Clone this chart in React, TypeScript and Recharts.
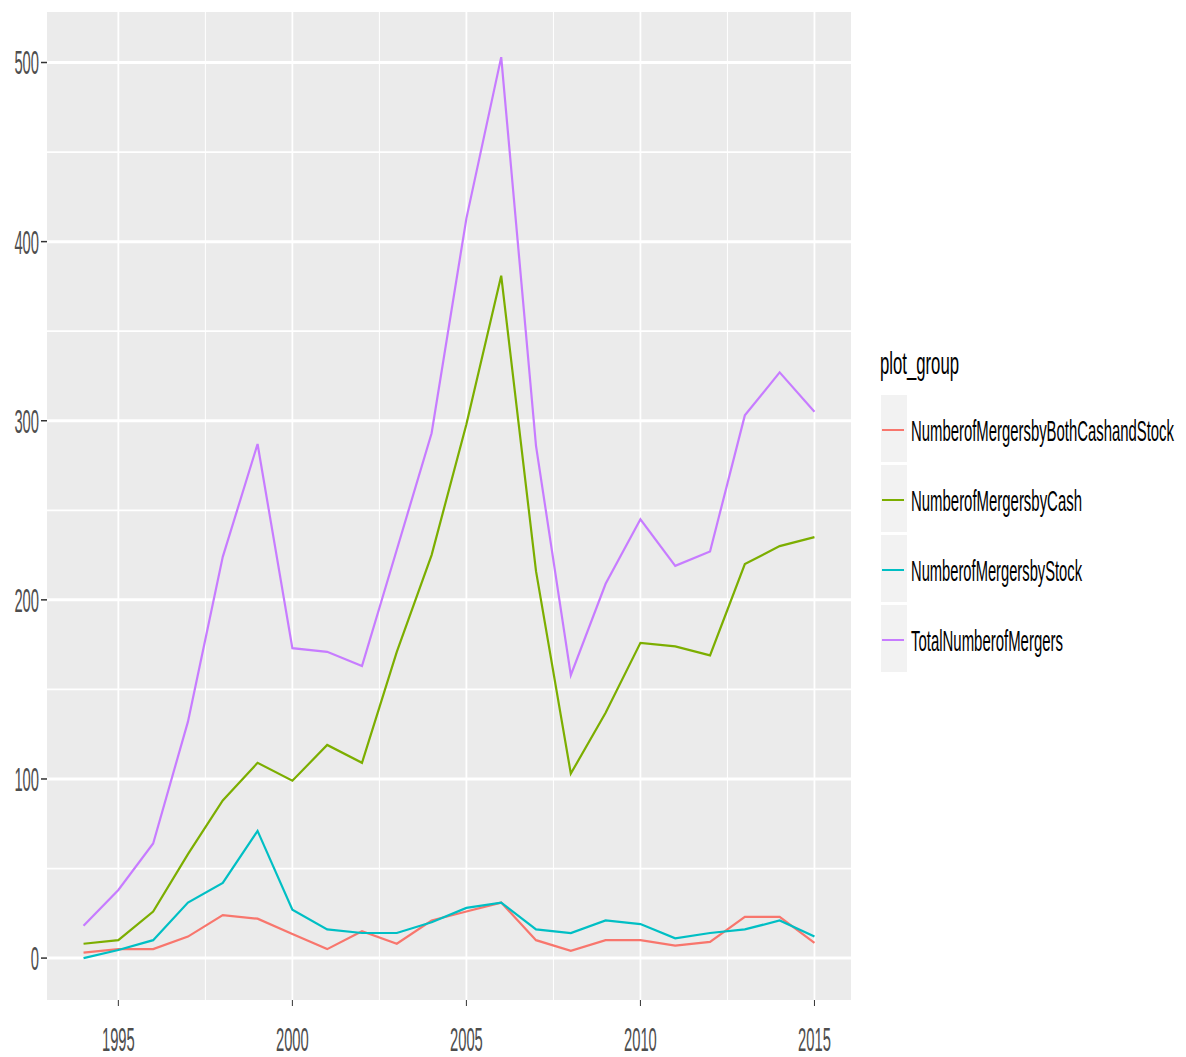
import React, { useLayoutEffect, useRef, useState } from 'react';
import { LineChart, Line, XAxis, YAxis, CartesianGrid, Legend } from 'recharts';

const years = [1994, 1995, 1996, 1997, 1998, 1999, 2000, 2001, 2002, 2003, 2004, 2005, 2006, 2007, 2008, 2009, 2010, 2011, 2012, 2013, 2014, 2015];
const bothCashStock = [3, 5, 5, 12, 24, 22, 13.5, 5, 15, 8, 21, 26, 31, 10, 4, 10, 10, 7, 9, 23, 23, 8.5];
const byCash = [8, 10, 26, 58, 88, 109, 99, 119, 109, 171, 225, 298, 381, 216, 103, 137, 176, 174, 169, 220, 230, 235];
const byStock = [0, 4.5, 10, 31, 42, 71, 27, 16, 14, 14, 20, 28, 31, 16, 14, 21, 19, 11, 14, 16, 21, 12];
const totalMergers = [18, 38, 64, 132, 224, 287, 173, 171, 163, 228, 293, 413, 503, 286, 158, 209, 245, 219, 227, 303, 327, 305];

const xMajor = [1995, 2000, 2005, 2010, 2015];
const xMinor = [1997.5, 2002.5, 2007.5, 2012.5];
const yMajor = [0, 100, 200, 300, 400, 500];
const yMinor = [50, 150, 250, 350, 450];

const series = [
  { key: 'both', name: 'NumberofMergersbyBothCashandStock', color: '#F8766D', width: 263 },
  { key: 'cash', name: 'NumberofMergersbyCash', color: '#7CAE00', width: 171 },
  { key: 'stock', name: 'NumberofMergersbyStock', color: '#00BFC4', width: 171 },
  { key: 'total', name: 'TotalNumberofMergers', color: '#C77CFF', width: 152 },
];

const data = years.map((year, i) => ({
  year,
  both: bothCashStock[i],
  cash: byCash[i],
  stock: byStock[i],
  total: totalMergers[i],
}));

const FONT = 'Liberation Sans, Arial, sans-serif';
// ggplot text is squeezed horizontally in the reference, so fix widths
const DIGIT_W = 8.2;

// text squeezed to a given width with a scale transform (measured once drawn)
const Squeezed = ({ x, y, width, children, ...rest }: any) => {
  const ref = useRef<SVGTextElement>(null);
  const [sx, setSx] = useState(0.55);
  useLayoutEffect(() => {
    if (ref.current) {
      const w = ref.current.getComputedTextLength();
      if (w > 0) setSx(width / w);
    }
  }, [width, children]);
  return (
    <text ref={ref} transform={`translate(${x},${y}) scale(${sx},1)`} fontFamily={FONT} {...rest}>
      {children}
    </text>
  );
};

const YTick = (props: any) => {
  const { x, y, payload } = props;
  const s = String(payload.value);
  return (
    <Squeezed x={x} y={y} dy="0.36em" textAnchor="end" fontSize={33} fill="#4D4D4D" width={s.length * DIGIT_W}>
      {s}
    </Squeezed>
  );
};

const XTick = (props: any) => {
  const { x, y, payload } = props;
  const s = String(payload.value);
  return (
    <Squeezed x={x} y={y + 43} textAnchor="middle" fontSize={33} fill="#4D4D4D" width={s.length * DIGIT_W}>
      {s}
    </Squeezed>
  );
};

const LegendBox = (props: any) => {
  const { payload } = props;
  return (
    <svg width={316} height={345} style={{ display: 'block' }}>
      <Squeezed x={10} y={44} fontSize={32} fill="#000" width={79}>plot_group</Squeezed>
      {(payload || []).map((p: any, i: number) => {
        const top = 65 + i * 70;
        const meta = series.find((s) => s.name === p.value);
        return (
          <g key={p.value}>
            <rect x={11} y={top} width={26} height={67} fill="#F2F2F2" />
            <line x1={12} x2={34} y1={top + 35} y2={top + 35} stroke={p.color} strokeWidth={2} />
            <Squeezed x={41} y={top + 46} fontSize={30} fill="#000" width={meta ? meta.width : 160}>
              {p.value}
            </Squeezed>
          </g>
        );
      })}
    </svg>
  );
};

export default function App() {
  return (
    <div style={{ position: 'absolute', left: 0, top: 0, width: 1186, height: 1057, background: '#fff' }}>
      <LineChart width={1186} height={1057} data={data} margin={{ top: 12, right: 335, bottom: 0, left: 0 }}>
        <CartesianGrid fill="#EBEBEB" stroke="#fff" strokeWidth={1.8} vertical={false} horizontalValues={yMinor} />
        <CartesianGrid stroke="#fff" strokeWidth={1} horizontal={false} verticalValues={xMinor} />
        <CartesianGrid stroke="#fff" strokeWidth={3} vertical={false} horizontalValues={yMajor} />
        <CartesianGrid stroke="#fff" strokeWidth={1.8} horizontal={false} verticalValues={xMajor} />
        <XAxis dataKey="year" type="number" domain={[1992.95, 2016.05]} ticks={xMajor} height={57}
          axisLine={false} tickSize={6} tickLine={{ stroke: '#333333', strokeWidth: 1 }} tick={<XTick />} allowDataOverflow />
        <YAxis type="number" domain={[-23.4, 528.2]} ticks={yMajor} width={47}
          axisLine={false} tickSize={6} tickMargin={2} tickLine={{ stroke: '#333333', strokeWidth: 1.5 }} tick={<YTick />} allowDataOverflow />
        <Legend layout="vertical" align="center" verticalAlign="middle" content={<LegendBox />}
          wrapperStyle={{ left: 870, top: 330, width: 316, height: 345 }} />
        {series.map((s) => (
          <Line key={s.key} type="linear" dataKey={s.key} name={s.name} stroke={s.color} strokeWidth={2.2}
            dot={false} activeDot={false} isAnimationActive={false} />
        ))}
      </LineChart>
    </div>
  );
}
